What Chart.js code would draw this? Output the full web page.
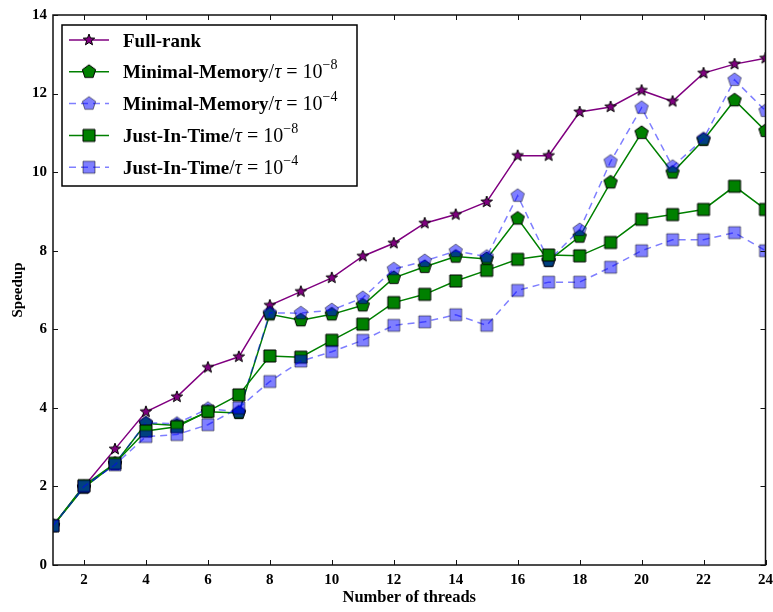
<!DOCTYPE html>
<html>
<head>
<meta charset="utf-8">
<script src="https://cdn.jsdelivr.net/npm/chart.js@4.4.0/dist/chart.umd.min.js"></script>
<style>
  html, body { margin: 0; padding: 0; background: #fff; overflow: hidden; }
  #wrap { width: 773px; height: 612px; position: relative; }
</style>
</head>
<body>
<div id="wrap"><canvas id="speedupChart"></canvas></div>
<script>
// values
const threads = [1, 2, 3, 4, 5, 6, 7, 8, 9, 10, 11, 12, 13, 14, 15, 16, 17, 18, 19, 20, 21, 22, 23, 24];
const fullRank = [1.0, 2.0, 2.95, 3.9, 4.28, 5.03, 5.3, 6.61, 6.96, 7.31, 7.86, 8.19, 8.7, 8.92, 9.24, 10.42, 10.42, 11.53, 11.66, 12.08, 11.8, 12.52, 12.75, 12.9];
const minMem8 = [1.0, 1.97, 2.58, 3.6, 3.55, 3.9, 3.87, 6.38, 6.23, 6.38, 6.61, 7.31, 7.59, 7.85, 7.79, 8.82, 7.74, 8.36, 9.74, 11.0, 9.99, 10.82, 11.83, 11.05];
const minMem4 = [1.0, 1.98, 2.57, 3.62, 3.6, 3.98, 3.9, 6.42, 6.41, 6.49, 6.8, 7.53, 7.74, 7.99, 7.85, 9.4, 7.75, 8.53, 10.27, 11.64, 10.14, 10.85, 12.35, 11.56];
const jit8 = [1.0, 2.02, 2.59, 3.41, 3.52, 3.91, 4.33, 5.32, 5.29, 5.72, 6.13, 6.68, 6.89, 7.23, 7.5, 7.78, 7.89, 7.87, 8.21, 8.8, 8.92, 9.05, 9.64, 9.05];
const jit4 = [1.0, 2.0, 2.55, 3.27, 3.32, 3.57, 4.0, 4.67, 5.19, 5.43, 5.72, 6.1, 6.19, 6.37, 6.1, 6.99, 7.2, 7.2, 7.58, 8.0, 8.28, 8.28, 8.46, 8.0];
const xTicks = [2, 4, 6, 8, 10, 12, 14, 16, 18, 20, 22, 24];
const yTicks = [0, 2, 4, 6, 8, 10, 12, 14];
const seriesNames = ['Full-rank', 'Minimal-Memory', 'Minimal-Memory', 'Just-In-Time', 'Just-In-Time'];
const tauExp = [null, '8', '4', '8', '4'];

const serif = "'Liberation Serif', 'DejaVu Serif', serif";
Chart.defaults.font.family = serif;
Chart.defaults.color = '#000';

// filled marker drawn once into a small canvas, used as pointStyle
function marker(shape, fill, edge, r) {
    const c = document.createElement('canvas');
    const s = Math.ceil(r * 2 + 4);
    c.width = c.height = s;
    const g = c.getContext('2d');
    const m = s / 2;
    g.beginPath();
    if (shape === 'square') {
        g.rect(m - r, m - r, 2 * r, 2 * r);
    } else {
        const n = shape === 'star' ? 10 : 5;
        for (let i = 0; i < n; i++) {
            const rad = (shape === 'star' && i % 2) ? r * 0.42 : r;
            const a = -Math.PI / 2 + i * 2 * Math.PI / n;
            const px = m + rad * Math.cos(a), py = m + rad * Math.sin(a);
            if (i === 0) g.moveTo(px, py); else g.lineTo(px, py);
        }
        g.closePath();
    }
    g.fillStyle = fill;
    g.fill();
    g.lineWidth = 1;
    g.strokeStyle = edge;
    g.stroke();
    return c;
}

const points = vals => threads.map((t, i) => ({ x: t, y: vals[i] }));

function series(vals, color, style, dashed, order) {
    return {
        data: points(vals),
        borderColor: color,
        borderWidth: 1.5,
        borderDash: dashed ? [7, 5] : [],
        pointStyle: style,
        pointRadius: 6,
        pointHoverRadius: 6,
        fill: false,
        tension: 0,
        clip: 0,
        order: order
    };
}

const lightBlue = 'rgba(0,0,255,0.5)';
const halfBlack = 'rgba(0,0,0,0.5)';

const datasets = [
    series(fullRank, '#800080', marker('star', '#800080', '#000', 6), false, 5),
    series(minMem8, '#008000', marker('pentagon', '#008000', '#000', 7), false, 4),
    series(minMem4, lightBlue, marker('pentagon', lightBlue, halfBlack, 7), true, 3),
    series(jit8, '#008000', marker('square', '#008000', '#000', 6), false, 2),
    series(jit4, lightBlue, marker('square', lightBlue, halfBlack, 6), true, 1)
];

// box frame with inward ticks on all four sides
const frame = {
    id: 'frame',
    afterDraw(chart) {
        const { ctx, chartArea: a, scales } = chart;
        ctx.save();
        ctx.strokeStyle = '#111';
        ctx.lineWidth = 1;
        ctx.beginPath();
        xTicks.forEach(v => {
            const px = Math.round(scales.x.getPixelForValue(v)) + 0.5;
            ctx.moveTo(px, a.bottom); ctx.lineTo(px, a.bottom - 5);
            ctx.moveTo(px, a.top); ctx.lineTo(px, a.top + 5);
        });
        yTicks.forEach(v => {
            const py = Math.round(scales.y.getPixelForValue(v)) + 0.5;
            ctx.moveTo(a.left, py); ctx.lineTo(a.left + 5, py);
            ctx.moveTo(a.right, py); ctx.lineTo(a.right - 5, py);
        });
        ctx.stroke();
        ctx.lineWidth = 1.5;
        ctx.strokeRect(a.left, a.top, a.right - a.left, a.bottom - a.top);
        ctx.restore();
    }
};

// legend with the tau superscripts
const legendBox = {
    id: 'legendBox',
    afterDraw(chart) {
        const { ctx, chartArea: a } = chart;
        const left = a.left + 9, top = a.top + 10, w = 295, h = 161;
        ctx.save();
        ctx.fillStyle = '#fff';
        ctx.fillRect(left, top, w, h);
        ctx.lineWidth = 1.5;
        ctx.strokeStyle = '#000';
        ctx.strokeRect(left, top, w, h);
        chart.data.datasets.forEach((ds, i) => {
            const y = top + 15 + i * 31.8;
            ctx.save();
            ctx.strokeStyle = ds.borderColor;
            ctx.lineWidth = ds.borderWidth;
            ctx.setLineDash(ds.borderDash);
            ctx.beginPath();
            ctx.moveTo(left + 7, y); ctx.lineTo(left + 47, y);
            ctx.stroke();
            ctx.restore();
            const img = ds.pointStyle;
            ctx.drawImage(img, left + 27 - img.width / 2, y - img.height / 2);

            let x = left + 61;
            const base = y + 6.5;
            ctx.fillStyle = '#000';
            ctx.textBaseline = 'alphabetic';
            const put = (txt, font, dy) => {
                ctx.font = font;
                ctx.fillText(txt, x, base + (dy || 0));
                x += ctx.measureText(txt).width;
            };
            put(seriesNames[i], 'bold 19px ' + serif);
            if (tauExp[i]) {
                put('/', '20px ' + serif);
                put('\u03c4', 'italic 20px ' + serif);
                put(' = ', '20px ' + serif);
                put('10', '20px ' + serif);
                put('\u2212' + tauExp[i], '14px ' + serif, -9);
            }
        });
        ctx.restore();
    }
};

new Chart(document.getElementById('speedupChart'), {
    type: 'line',
    data: { datasets: datasets },
    options: {
        responsive: true,
        maintainAspectRatio: false,
        animation: false,
        events: [],
        layout: { padding: { top: 11, right: 0, left: 0, bottom: 0 } },
        plugins: { legend: { display: false }, tooltip: { enabled: false } },
        scales: {
            x: {
                type: 'linear',
                min: 1,
                max: 24,
                afterBuildTicks: s => { s.ticks = xTicks.map(v => ({ value: v })); },
                afterFit: s => { s.height = 47; s.paddingLeft = 0; s.paddingRight = 4; },
                grid: { display: false, drawTicks: false },
                border: { display: false },
                ticks: { font: { size: 15, weight: 'bold' }, padding: 6, maxRotation: 0 },
                title: { display: true, text: 'Number of threads', font: { size: 16.5, weight: 'bold' }, padding: { top: 0, bottom: 4 } }
            },
            y: {
                min: 0,
                max: 14,
                afterBuildTicks: s => { s.ticks = yTicks.map(v => ({ value: v })); },
                afterFit: s => { s.width = 53; },
                grid: { display: false, drawTicks: false },
                border: { display: false },
                ticks: { font: { size: 15, weight: 'bold' }, padding: 6 },
                title: { display: true, text: 'Speedup', font: { size: 15, weight: 'bold' }, padding: { top: 9, bottom: 0 } }
            }
        }
    },
    plugins: [frame, legendBox]
});
</script>
</body>
</html>
